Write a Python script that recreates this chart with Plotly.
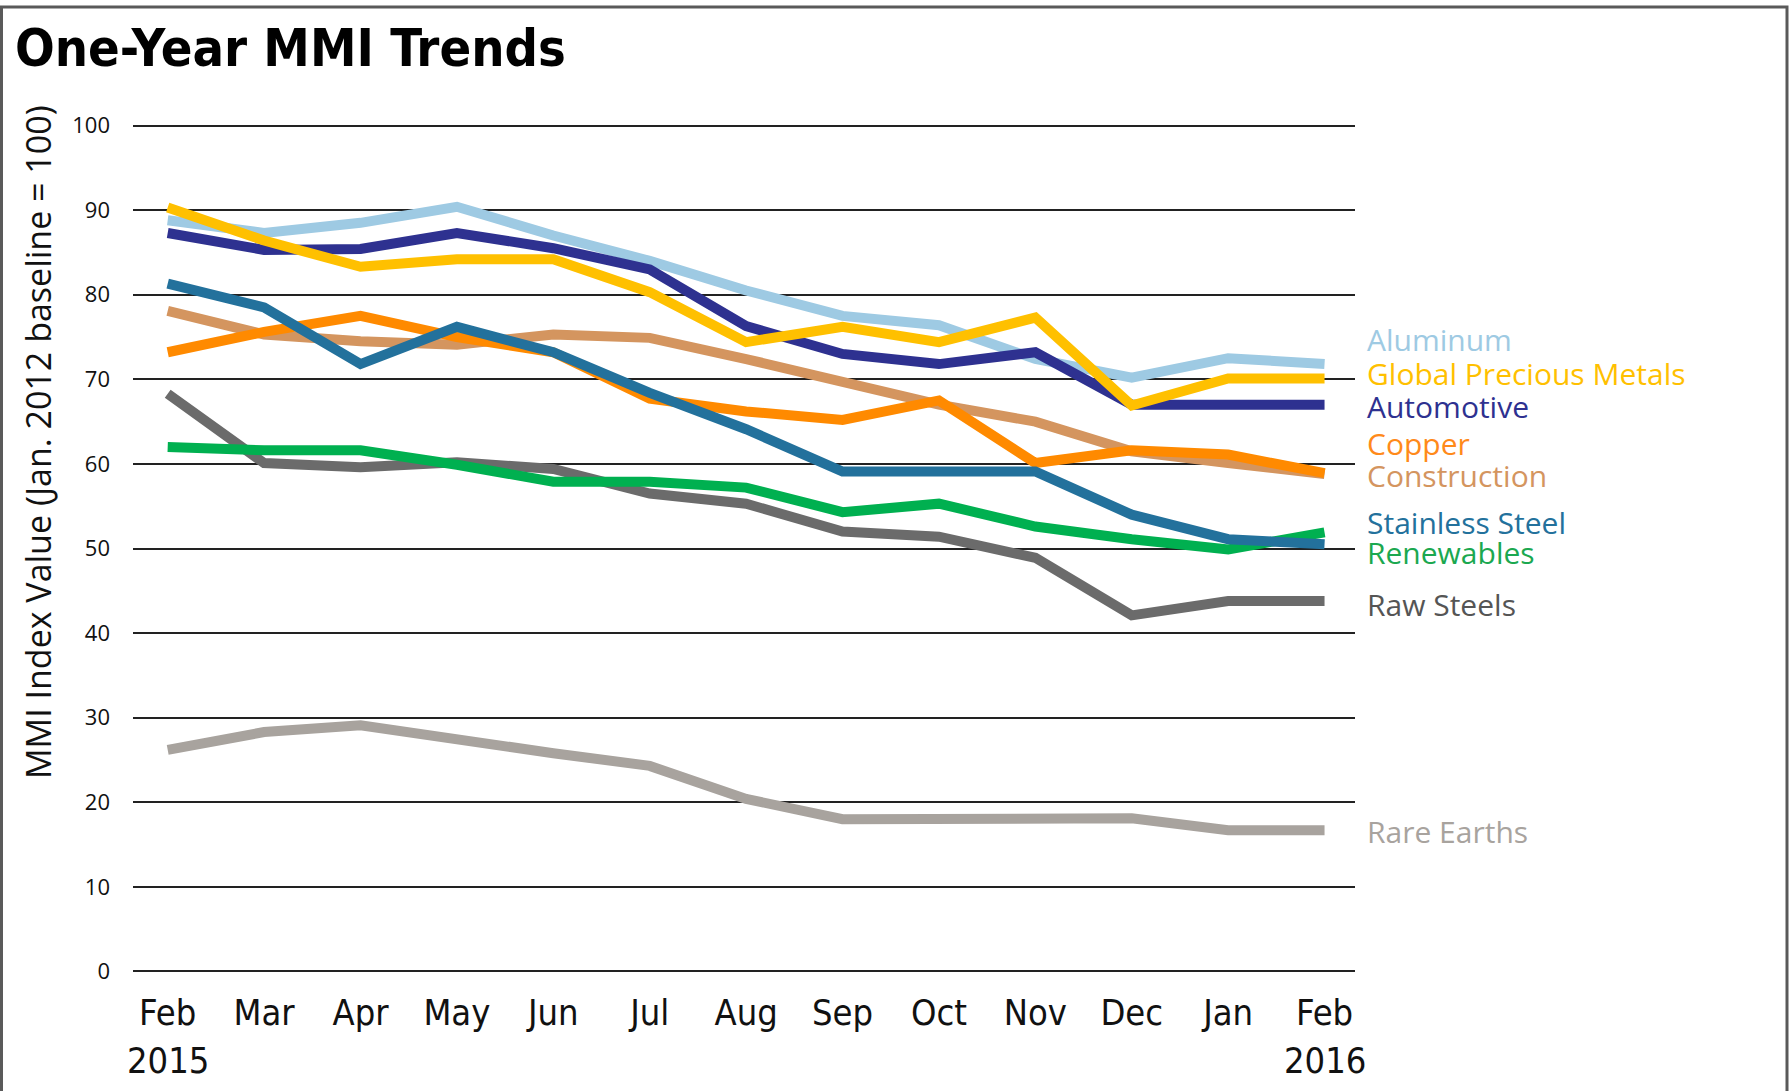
import plotly.graph_objects as go

months = ["Feb", "Mar", "Apr", "May", "Jun", "Jul", "Aug", "Sep", "Oct", "Nov", "Dec", "Jan", "Feb"]
years = ["2015", "2016"]

aluminum = [88.8, 87.3, 88.5, 90.4, 87.0, 84.0, 80.5, 77.5, 76.4, 72.4, 70.2, 72.5, 71.8]
precious = [90.3, 86.4, 83.3, 84.2, 84.2, 80.3, 74.4, 76.2, 74.4, 77.3, 66.9, 70.1, 70.1]
automotive = [87.3, 85.3, 85.4, 87.3, 85.5, 83.0, 76.3, 73.0, 71.8, 73.2, 67.0, 67.0, 67.0]
copper = [73.2, 75.6, 77.5, 75.0, 73.2, 67.7, 66.2, 65.2, 67.5, 60.1, 61.6, 61.1, 58.9]
construction = [78.1, 75.3, 74.5, 74.1, 75.3, 74.9, 72.4, 69.8, 67.0, 65.0, 61.5, 60.1, 58.8]
stainless = [81.3, 78.5, 71.8, 76.2, 73.2, 68.4, 64.1, 59.1, 59.1, 59.1, 54.0, 51.1, 50.5]
renewables = [62.0, 61.6, 61.6, 59.9, 57.9, 57.9, 57.2, 54.3, 55.3, 52.6, 51.1, 49.9, 51.9]
raw_steels = [68.3, 60.1, 59.6, 60.2, 59.4, 56.5, 55.3, 52.0, 51.4, 48.9, 42.1, 43.8, 43.8]
rare_earths = [26.2, 28.3, 29.1, 27.4, 25.8, 24.3, 20.4, 18.0, 18.1, 18.1, 18.1, 16.7, 16.7]

# (name, values, line colour, label colour, label y position)
series = [
    ("Rare Earths", rare_earths, "#A8A39E", "#A8A39E", 16.6),
    ("Raw Steels", raw_steels, "#6B6B6B", "#555555", 43.4),
    ("Renewables", renewables, "#00B050", "#1BA850", 49.5),
    ("Construction", construction, "#D4955F", "#D4955F", 58.6),
    ("Copper", copper, "#FF8A00", "#FF8A1A", 62.4),
    ("Stainless Steel", stainless, "#23719C", "#23719C", 53.1),
    ("Aluminum", aluminum, "#9ECAE3", "#9ECAE3", 74.7),
    ("Automotive", automotive, "#2E3190", "#2E3190", 66.8),
    ("Global Precious Metals", precious, "#FFC000", "#FFC000", 70.7),
]

x = list(range(len(months)))

fig = go.Figure()
for name, vals, col, lcol, ly in series:
    fig.add_trace(go.Scatter(x=x, y=vals, mode="lines", name=name,
                             line=dict(color=col, width=10), showlegend=False))

label_font = "Open Sans, Noto Sans, sans-serif"
for name, vals, col, lcol, ly in series:
    fig.add_annotation(x=12, y=ly, xref="x", yref="y", text=name, showarrow=False,
                       xanchor="left", yanchor="middle", xshift=40,
                       font=dict(family=label_font, size=30, color=lcol))

fig.add_annotation(x=0, y=1 + (123 - 48) / 851, xref="paper", yref="paper",
                   text="<b>One-Year MMI Trends</b>", showarrow=False,
                   xanchor="left", yanchor="middle", xshift=-120,
                   font=dict(family="Liberation Sans Narrow, DejaVu Sans Condensed, Arial, sans-serif",
                             size=52, color="#000000"))

fig.add_annotation(x=0, y=(974 - 442) / 851, xref="paper", yref="paper",
                   text="MMI Index Value (Jan. 2012 baseline = 100)", showarrow=False,
                   textangle=-90, xanchor="center", yanchor="middle", xshift=-95,
                   font=dict(family=label_font, size=34, color="#111111"))

for i, yr in zip([0, 12], years):
    fig.add_annotation(x=i, y=0, xref="x", yref="paper", text=yr, showarrow=False,
                       xanchor="center", yanchor="middle", yshift=-86,
                       font=dict(family="Liberation Sans Narrow, DejaVu Sans Condensed, sans-serif",
                                 size=36, color="#111111"))

# outer frame
L = (1.5 - 133) / 1222
R = (1787 - 133) / 1222
T = (974 - 7) / 851
B = (974 - 1095) / 851
fig.add_shape(type="path", xref="paper", yref="paper",
              path=f"M {L} {B} L {L} {T} L {R} {T} L {R} {B}",
              line=dict(color="#5a5a5a", width=3), layer="above")

fig.update_layout(
    width=1789, height=1091,
    margin=dict(l=133, r=434, t=123, b=117),
    paper_bgcolor="white", plot_bgcolor="white",
    xaxis=dict(range=[-0.36, 12.316], tickvals=x, ticktext=months, showgrid=False,
               zeroline=False, showline=False, ticks="", ticklabelstandoff=14,
               tickfont=dict(family="Liberation Sans Narrow, DejaVu Sans Condensed, sans-serif",
                             size=36, color="#111111")),
    yaxis=dict(range=[-0.3, 100.3], tickvals=list(range(0, 101, 10)), showgrid=True,
               gridcolor="#222222", gridwidth=2, zeroline=False, showline=False,
               ticks="", ticklabelstandoff=22,
               tickfont=dict(family=label_font, size=22, color="#111111")),
)

fig.write_html("out.html", config={"displayModeBar": False},
               post_script="document.body.style.margin='0px';document.body.style.overflow='hidden';")
